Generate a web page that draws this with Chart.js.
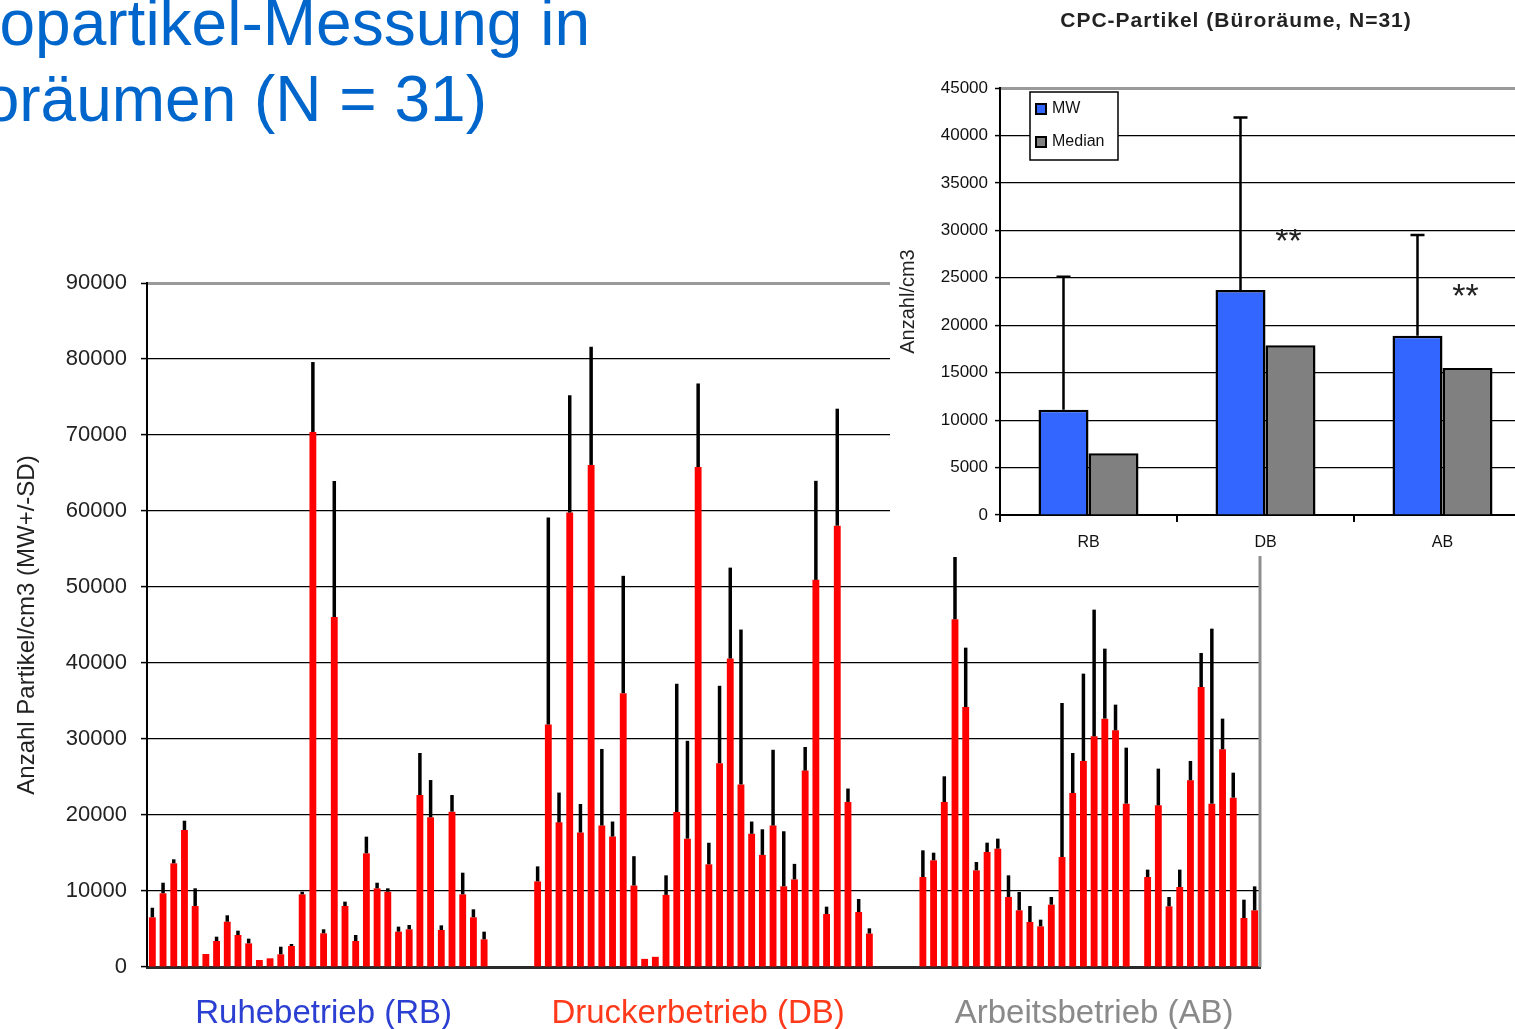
<!DOCTYPE html>
<html><head><meta charset="utf-8">
<script src="https://cdn.jsdelivr.net/npm/chart.js@4.4.1/dist/chart.umd.min.js"></script>
<style>
html,body{margin:0;padding:0;background:#fff;overflow:hidden;width:1515px;height:1029px;position:relative;}
#main{position:absolute;left:0;top:0;}
#insetBox{position:absolute;left:890px;top:0;width:625px;height:556px;overflow:hidden;background:#fff;}
#inset{position:absolute;left:0;top:0;}
.t{position:absolute;white-space:nowrap;font-family:"Liberation Sans",Arial,sans-serif;font-size:64px;line-height:64px;color:#0066cc;}
</style></head><body>
<canvas id="main" width="1515" height="1029" style="width:1515px;height:1029px"></canvas>
<div id="insetBox"><canvas id="inset" width="660" height="556" style="width:660px;height:556px"></canvas></div>
<div class="t" style="right:925px;top:-9px">Nanopartikel-Messung in</div>
<div class="t" style="right:1028px;top:67px">Büroräumen (N = 31)</div>
<script>
// ---------- data: main chart (MW and MW+SD per room) ----------
const groupNames = ['Ruhebetrieb (RB)', 'Druckerbetrieb (DB)', 'Arbeitsbetrieb (AB)'];
const rbMean  = [6540, 9700, 13640, 18030, 8030, 1710, 3420, 5960, 4210, 3110, 920, 1140, 1670, 2760, 9560, 70400,
                 4430, 46050, 8030, 3420, 14960, 10350, 9910, 4650, 4960, 22630, 19700, 4870, 20440, 9560, 6540, 3640];
const rbUpper = [7800, 11090, 14170, 19250, 10350, null, 3990, 6800, 4780, 3730, null, null, 2670, 3030, 9910, 79600,
                 4960, 63950, 8600, 4210, 17150, 11090, 10350, 5310, 5530, 28160, 24600, 5480, 22630, 12410, 7590, 4650];
const dbMean  = [11260, 31900, 19030, 59790, 17690, 66060, 18610, 17160, 36030, 10720, 1070, 1340, 9490, 20380, 16890, 65790,
                 13510, 26810, 40590, 24020, 17530, 14750, 18610, 10620, 11530, 25840, 50940, 6970, 58070, 21720, 7240, 4400];
const dbUpper = [13240, 59140, 22950, 75230, 21450, 81610, 28690, 19140, 51470, 14580, null, null, 12060, 37270, 29760, 76780,
                 16350, 37000, 52550, 44400, 19140, 18120, 28580, 17860, 13570, 28950, 63970, 7940, 73460, 23480, 8950, 5090];
const abMean  = [11840, 14040, 21710, 45750, 34210, 12720, 15130, 15570, 9210, 7460, 5920, 5350, 8200, 14470, 22890, 27110,
                 30350, 32680, 31140, 21490, null, 11840, 21270, 7980, 10530, 24560, 36840, 21490, 28640, 22280, 6450, 7460];
const abUpper = [15350, 15040, 25090, 53950, 42020, 13820, 16360, 16890, 12060, 9870, 8030, 6230, 9210, 34740, 28160, 38600,
                 47020, 41890, 34520, 28860, null, 12810, 26100, 9210, 12810, 27110, 41320, 44520, 32680, 25570, 8860, 10610];
const mainYTicks = [0, 10000, 20000, 30000, 40000, 50000, 60000, 70000, 80000, 90000];

// ---------- data: inset chart ----------
const insetTitle = 'CPC-Partikel (Büroräume, N=31)';
const insetCats = ['RB', 'DB', 'AB'];
const mwValues = [11100, 23700, 18900];
const medianValues = [6500, 17900, 15500];
const mwUpper = [25100, 41900, 29500];
const sigMarks = ['', '**', '**'];
const sigLevel = [null, 29400, 23600];
const insetYTicks = [0, 5000, 10000, 15000, 20000, 25000, 30000, 35000, 40000, 45000];

Chart.defaults.font.family = '"Liberation Sans", Arial, sans-serif';
Chart.defaults.animation = false;

// ---------- build main chart slots ----------
const GAP = 4;
const gapArr = Array(GAP).fill(null);
const allMean = [...rbMean, ...gapArr, ...dbMean, ...gapArr, ...abMean];
const allUpper = [...rbUpper, ...gapArr, ...dbUpper, ...gapArr, ...abUpper];
const slotLabels = allMean.map((_, i) => String(i));
const labelSlots = [16, 51, 88];          // slot under which each group name is centred
const groupLabelAt = {};
labelSlots.forEach((s, g) => { groupLabelAt[s] = g; });
const groupColors = ['#2b3fd2', '#ff3a1a', '#8a8a8a'];

const errorBars = {
  id: 'errorBars',
  afterDatasetsDraw(chart, args, opts) {
    const meta = chart.getDatasetMeta(opts.datasetIndex || 0);
    const ds = chart.data.datasets[opts.datasetIndex || 0];
    const ys = chart.scales.y;
    const ctx = chart.ctx;
    ctx.save();
    ctx.strokeStyle = '#000';
    ctx.lineWidth = opts.lineWidth;
    meta.data.forEach((bar, i) => {
      const u = opts.upper[i];
      if (u == null || ds.data[i] == null) return;
      const yTop = ys.getPixelForValue(u);
      ctx.beginPath();
      ctx.moveTo(bar.x, bar.y);
      ctx.lineTo(bar.x, yTop);
      ctx.stroke();
    });
    ctx.restore();
  }
};

const rightBorder = {
  id: 'rightBorder',
  afterDraw(chart, args, opts) {
    const a = chart.chartArea, ctx = chart.ctx;
    ctx.save();
    ctx.strokeStyle = opts.color; ctx.lineWidth = opts.width;
    ctx.beginPath(); ctx.moveTo(a.right, a.top); ctx.lineTo(a.right, a.bottom); ctx.stroke();
    ctx.restore();
  }
};

new Chart(document.getElementById('main'), {
  type: 'bar',
  data: {
    labels: slotLabels,
    datasets: [{
      label: 'MW',
      data: allMean,
      backgroundColor: '#ff0000',
      borderWidth: 0,
      barPercentage: 0.64,
      categoryPercentage: 1.0
    }]
  },
  options: {
    responsive: false,
    devicePixelRatio: 1,
    layout: { padding: { left: 0, top: 283, right: 255, bottom: 0 } },
    plugins: {
      legend: { display: false },
      tooltip: { enabled: false },
      errorBars: { upper: allUpper, lineWidth: 3.5, datasetIndex: 0 },
      rightBorder: { color: '#8f8f8f', width: 3 }
    },
    scales: {
      x: {
        type: 'category',
        afterFit: s => { s.height = 62; },
        grid: { display: false, drawTicks: false },
        border: { display: true, color: '#2a2a2a', width: 3 },
        ticks: {
          autoSkip: false, maxRotation: 0, minRotation: 0, padding: 27,
          font: { size: 33 },
          color: c => groupColors[groupLabelAt[c.index]] || '#000',
          callback: (v, i) => (groupLabelAt[i] !== undefined ? groupNames[groupLabelAt[i]] : '')
        }
      },
      y: {
        min: 0, max: 90000,
        afterFit: s => { s.width = 147; },
        afterBuildTicks: s => { s.ticks = mainYTicks.map(v => ({ value: v })); },
        grid: {
          color: c => (c.tick && c.tick.value === 90000 ? '#9a9a9a' : '#000'),
          lineWidth: c => (c.tick && c.tick.value === 90000 ? 3 : 1.2),
          tickColor: '#000', tickWidth: 1.5, tickLength: 6
        },
        border: { display: true, color: '#000', width: 2 },
        ticks: { font: { size: 22 }, color: '#222', padding: 14, callback: v => String(v) },
        title: {
          display: true, text: 'Anzahl Partikel/cm3 (MW+/-SD)',
          font: { size: 24 }, color: '#222', padding: { top: 13, bottom: 0 }
        }
      }
    }
  },
  plugins: [errorBars, rightBorder]
});

// ---------- inset ----------
const insetDeco = {
  id: 'insetDeco',
  afterDatasetsDraw(chart) {
    const ctx = chart.ctx, a = chart.chartArea, ys = chart.scales.y;
    ctx.save();
    // error bars for MW
    const mw = chart.getDatasetMeta(0);
    ctx.strokeStyle = '#000'; ctx.lineWidth = 2.5;
    mw.data.forEach((bar, i) => {
      const yTop = ys.getPixelForValue(mwUpper[i]);
      ctx.beginPath();
      ctx.moveTo(bar.x, bar.y); ctx.lineTo(bar.x, yTop);
      ctx.moveTo(bar.x - 7, yTop); ctx.lineTo(bar.x + 7, yTop);
      ctx.stroke();
    });
    // significance marks
    const med = chart.getDatasetMeta(1);
    ctx.fillStyle = '#222';
    ctx.font = '34px "Liberation Sans", Arial, sans-serif';
    ctx.textAlign = 'center'; ctx.textBaseline = 'middle';
    med.data.forEach((bar, i) => {
      if (!sigMarks[i]) return;
      ctx.fillText(sigMarks[i], bar.x - 2, ys.getPixelForValue(sigLevel[i]) + 7);
    });
    // legend box
    const lx = a.left + 30, ly = a.top + 4, lw = 88, lh = 68;
    ctx.fillStyle = '#fff';
    ctx.fillRect(lx, ly, lw, lh);
    ctx.strokeStyle = '#000'; ctx.lineWidth = 1.5;
    ctx.strokeRect(lx, ly, lw, lh);
    ctx.font = '16px "Liberation Sans", Arial, sans-serif';
    ctx.textAlign = 'left'; ctx.textBaseline = 'middle';
    chart.data.datasets.forEach((ds, i) => {
      const cy = ly + 17 + i * 33;
      ctx.fillStyle = ds.backgroundColor;
      ctx.fillRect(lx + 6, cy - 5, 10, 10);
      ctx.lineWidth = 2; ctx.strokeStyle = '#000';
      ctx.strokeRect(lx + 6, cy - 5, 10, 10);
      ctx.fillStyle = '#111';
      ctx.fillText(ds.label, lx + 22, cy);
    });
    // title
    ctx.fillStyle = '#222';
    ctx.font = 'bold 21px "Liberation Sans", Arial, sans-serif';
    ctx.textAlign = 'center';
    if ('letterSpacing' in ctx) ctx.letterSpacing = '1px';
    ctx.fillText(insetTitle, 346, 21);
    ctx.restore();
  }
};

new Chart(document.getElementById('inset'), {
  type: 'bar',
  data: {
    labels: insetCats,
    datasets: [
      { label: 'MW', data: mwValues, backgroundColor: '#3366ff', borderColor: '#000', borderWidth: 2.5,
        barPercentage: 1.0, categoryPercentage: 0.565 },
      { label: 'Median', data: medianValues, backgroundColor: '#808080', borderColor: '#000', borderWidth: 2.5,
        barPercentage: 1.0, categoryPercentage: 0.565 }
    ]
  },
  options: {
    responsive: false,
    devicePixelRatio: 1,
    layout: { padding: { left: 0, top: 88, right: 19, bottom: 0 } },
    plugins: { legend: { display: false }, tooltip: { enabled: false } },
    scales: {
      x: {
        afterFit: s => { s.height = 41; },
        grid: { display: true, drawOnChartArea: false, offset: true, color: '#000', lineWidth: 2, tickLength: 7 },
        border: { display: true, color: '#000', width: 2 },
        ticks: { font: { size: 16 }, color: '#111', padding: 11 }
      },
      y: {
        min: 0, max: 45000,
        afterFit: s => { s.width = 110; },
        afterBuildTicks: s => { s.ticks = insetYTicks.map(v => ({ value: v })); },
        grid: {
          color: c => (c.tick && c.tick.value === 45000 ? '#9a9a9a' : '#000'),
          lineWidth: c => (c.tick && c.tick.value === 45000 ? 3 : 1.2),
          tickColor: '#000', tickWidth: 1.5, tickLength: 5
        },
        border: { display: true, color: '#000', width: 2 },
        ticks: { font: { size: 17 }, color: '#111', padding: 7, callback: v => String(v) },
        title: { display: true, text: 'Anzahl/cm3', font: { size: 20 }, color: '#222', padding: { top: 6, bottom: 0 } }
      }
    }
  },
  plugins: [insetDeco]
});
</script>
</body></html>
